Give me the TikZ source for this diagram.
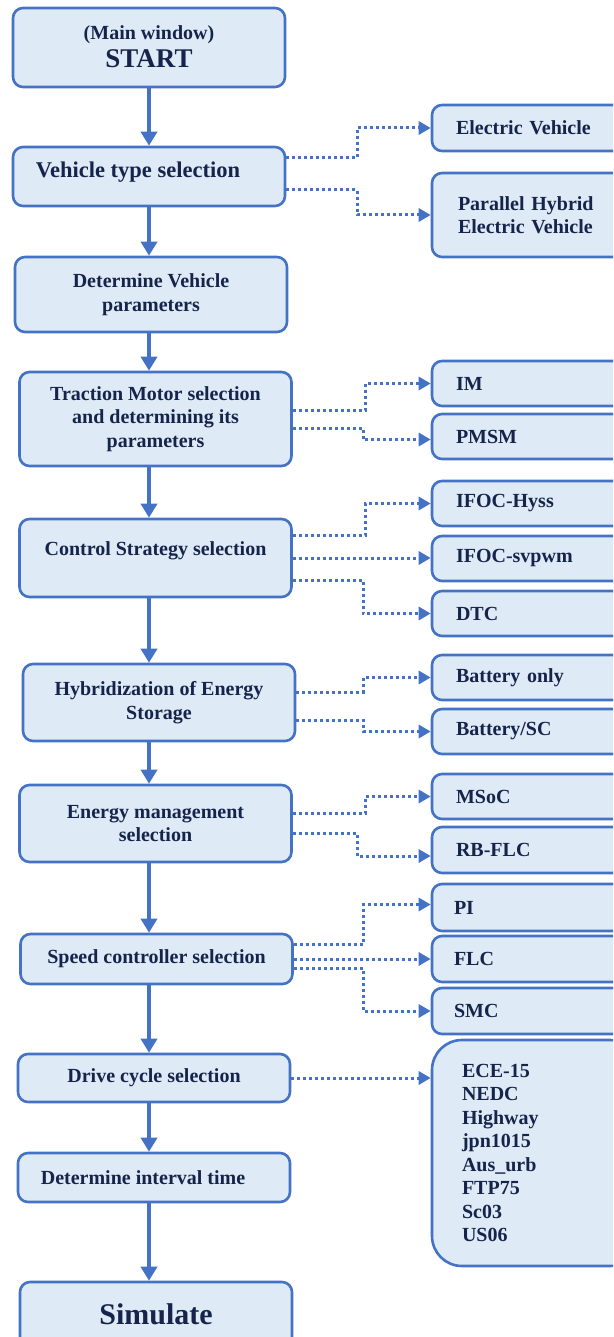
\documentclass[tikz,border=0pt]{standalone}
\usepackage{fontspec}
\setmainfont{Liberation Serif}
\usetikzlibrary{arrows.meta}
\definecolor{edge}{HTML}{4472C4}
\definecolor{boxfill}{HTML}{DEEAF6}
\definecolor{ink}{HTML}{16244C}

\begin{document}
\begin{tikzpicture}[x=1pt,y=-1pt,
  box/.style={draw=edge, fill=boxfill, line width=2.6pt, rounded corners=10pt,
    text=ink, font=\bfseries\fontsize{20}{23.5}\selectfont, align=center, inner sep=0pt},
  lbox/.style={box, minimum width=272pt},
  rbox/.style={box, minimum width=208pt, text width=160pt, align=left, inner xsep=24pt},
  flow/.style={draw=edge, line width=4.4pt, -{Triangle[length=14pt,width=16pt]}},
  opt/.style={draw=edge, line width=3pt, dash pattern=on 3pt off 3pt,
    -{Triangle[length=12pt,width=13pt]}},
]
\useasboundingbox (0,0) rectangle (613,1337);
\clip (0,0) rectangle (613,1337);

% main flow
\node[lbox, minimum height=79pt] (start) at (149,47.5)
  {\raisebox{2pt}[\height][\depth]{(Main window)}\\[2pt]{\fontsize{27}{30}\selectfont START}};
\node[lbox, minimum height=59pt] (vt) at (149,176.5)
  {\raisebox{4pt}[\height][\depth]{\hspace*{-22pt}\fontsize{22.5}{26}\selectfont Vehicle type selection}};
\node[lbox, minimum height=75pt] (dvp) at (151,294.5) {Determine Vehicle\\parameters};
\node[lbox, minimum height=94pt] (tm) at (155.5,419) {Traction Motor selection\\and determining its\\parameters};
\node[lbox, minimum height=78pt] (cs) at (155.5,558) {\raisebox{7pt}[\height][\depth]{Control Strategy selection}};
\node[lbox, minimum height=77pt] (hy) at (159,702.5) {Hybridization of Energy\\Storage};
\node[lbox, minimum height=77pt] (em) at (155.5,823.5) {Energy management\\selection};
\node[lbox, minimum height=50pt] (sc) at (156.5,959) {Speed controller selection};
\node[lbox, minimum height=48pt] (dc) at (154,1078) {Drive cycle selection};
\node[lbox, minimum height=49pt] (dit) at (154,1177.5) {\hspace*{-22pt}Determine interval time};
\node[lbox, minimum height=70pt, font=\bfseries\fontsize{30}{32}\selectfont] (sim) at (156,1317)
  {\raisebox{3pt}[\height][\depth]{Simulate}};

% options
\node[rbox, minimum height=46pt] (ev) at (536,128) {Electric Vehicle};
\node[rbox, minimum height=84pt, inner xsep=26pt, text width=156pt] (phev) at (536,215) {Parallel Hybrid\\Electric Vehicle};
\node[rbox, minimum height=45pt] (im) at (536,383.5) {IM};
\node[rbox, minimum height=45pt] (pmsm) at (536,436.5) {PMSM};
\node[rbox, minimum height=45pt] (ifh) at (536,503.5) {IFOC-Hyss};
\node[rbox, minimum height=45pt] (ifs) at (536,558.5) {IFOC-svpwm};
\node[rbox, minimum height=45pt] (dtc) at (536,613.5) {DTC};
\node[rbox, minimum height=45pt] (bo) at (536,677.5) {Battery only};
\node[rbox, minimum height=45pt] (bsc) at (536,731.5) {Battery/SC};
\node[rbox, minimum height=45pt] (msoc) at (536,796.5) {MSoC};
\node[rbox, minimum height=46pt] (rb) at (536,850) {RB-FLC};
\node[rbox, minimum height=47pt, inner xsep=22pt, text width=164pt] (pi) at (536,907.5) {PI};
\node[rbox, minimum height=46pt, inner xsep=22pt, text width=164pt] (flc) at (536,959) {FLC};
\node[rbox, minimum height=46pt, inner xsep=22pt, text width=164pt] (smc) at (536,1011) {SMC};
\node[rbox, minimum height=226pt, rounded corners=30pt, inner xsep=30pt, text width=148pt] (cyc) at (536,1153)
  {ECE-15\\NEDC\\Highway\\jpn1015\\Aus\_urb\\FTP75\\Sc03\\US06};

% main arrows
\coordinate (spine) at (149,0);
\foreach \a/\b in {start/vt, vt/dvp, dvp/tm, tm/cs, cs/hy, hy/em, em/sc, sc/dc, dc/dit, dit/sim}
  \draw[flow] (\a.south -| spine) -- (\b.north -| spine);

% option links
\draw[opt] ([yshift=18.5pt]vt.east) -- ++(71,0) |- (ev.west);
\draw[opt] ([yshift=-13.5pt]vt.east) -- ++(71,0) |- (phev.west);
\draw[opt] ([yshift=9pt]tm.east) -- ++(72.5,0) |- (im.west);
\draw[opt] ([yshift=-9pt]tm.east) -- ++(70.5,0) |- ([yshift=-3pt]pmsm.west);
\draw[opt] ([yshift=23pt]cs.east) -- ++(72.5,0) |- (ifh.west);
\draw[opt] (cs.east) -- (cs.east -| ifs.west);
\draw[opt] ([yshift=-22pt]cs.east) -- ++(70.5,0) |- (dtc.west);
\draw[opt] ([yshift=10.5pt]hy.east) -- ++(67,0) |- (bo.west);
\draw[opt] ([yshift=-17.5pt]hy.east) -- ++(67,0) |- (bsc.west);
\draw[opt] ([yshift=10.5pt]em.east) -- ++(72.5,0) |- (msoc.west);
\draw[opt] ([yshift=-9.5pt]em.east) -- ++(64.5,0) |- ([yshift=-6pt]rb.west);
\draw[opt] ([yshift=15pt]sc.east) -- ++(69.5,0) |- ([yshift=3pt]pi.west);
\draw[opt] (sc.east) -- (sc.east -| flc.west);
\draw[opt] ([yshift=-9pt]sc.east) -- ++(69.5,0) |- (smc.west);
\draw[opt] (dc.east) -- (dc.east -| cyc.west);
\end{tikzpicture}
\end{document}
